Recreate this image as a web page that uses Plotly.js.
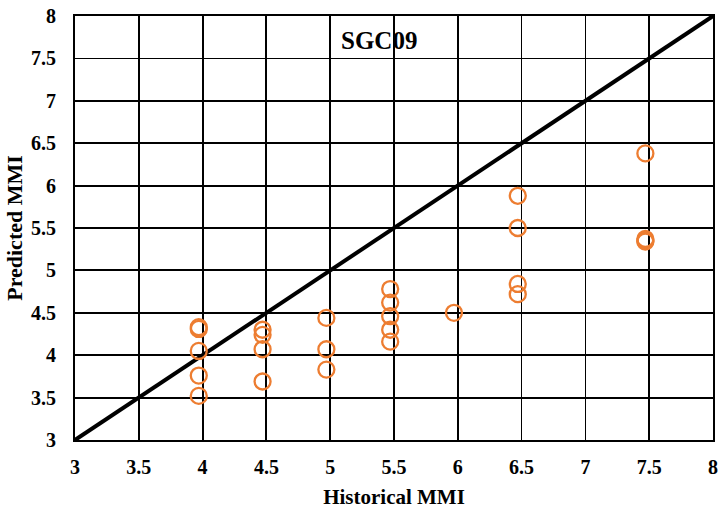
<!DOCTYPE html>
<html>
<head>
<meta charset="utf-8">
<script src="https://cdn.plot.ly/plotly-3.0.1.min.js"></script>
<style>html,body{margin:0;padding:0;background:#fff;}#chart{width:721px;height:509px;}</style>
</head>
<body>
<div id="chart"></div>
<script>
const historical = [3.97,3.97,3.97,3.97,3.97,
  4.47,4.47,4.47,4.47,
  4.97,4.97,4.97,
  5.47,5.47,5.47,5.47,5.47,
  5.97,
  6.47,6.47,6.47,6.47,
  7.47,7.47,7.47,7.47];
const predicted = [4.33,4.31,4.05,3.76,3.52,
  4.30,4.24,4.07,3.69,
  4.44,4.07,3.83,
  4.78,4.62,4.46,4.30,4.16,
  4.50,
  5.88,5.50,4.84,4.72,
  6.38,5.37,5.35,5.34];
const lineX = [3,8];
const lineY = [3,8];
const tickVals = [3,3.5,4,4.5,5,5.5,6,6.5,7,7.5,8];
const tickText = ['3','3.5','4','4.5','5','5.5','6','6.5','7','7.5','8'];
const chartTitle = 'SGC09';

const fam = 'Liberation Serif';
function f(size){ return {family:fam, size:size, weight:'bold', color:'#000'}; }
const data = [
  {x:lineX, y:lineY, mode:'lines', line:{color:'#000', width:4}, hoverinfo:'skip', cliponaxis:false},
  {x:historical, y:predicted, mode:'markers', type:'scatter',
   marker:{symbol:'circle-open', size:16, color:'#ED7D31', line:{width:2.3, color:'#ED7D31'}}}
];
function axis(titleText, titleSize, standoff, tso){
  return {
    range:[3,8], tickmode:'array', tickvals:tickVals, ticktext:tickText,
    showgrid:true, gridcolor:'#000', gridwidth:1.8,
    zeroline:false, showline:true, linecolor:'#000', linewidth:2, mirror:true, ticks:'',
    tickfont:f(20), ticklabelstandoff:tso,
    title:{text:titleText, font:f(titleSize), standoff:standoff}
  };
}
const layout = {
  width:721, height:509, showlegend:false,
  font:f(19),
  paper_bgcolor:'#fff', plot_bgcolor:'#fff',
  margin:{l:75, r:8, t:16, b:69},
  xaxis:axis('Historical MMI', 21, 20, 8),
  yaxis:axis('Predicted MMI', 22, 2, 13),
  annotations:[{text:chartTitle, xref:'paper', yref:'paper', x:0.476, y:0.943, showarrow:false,
    xanchor:'center', yanchor:'middle', font:f(25)}]
};
Plotly.newPlot('chart', data, layout, {displayModeBar:false, staticPlot:true});
</script>
</body>
</html>
